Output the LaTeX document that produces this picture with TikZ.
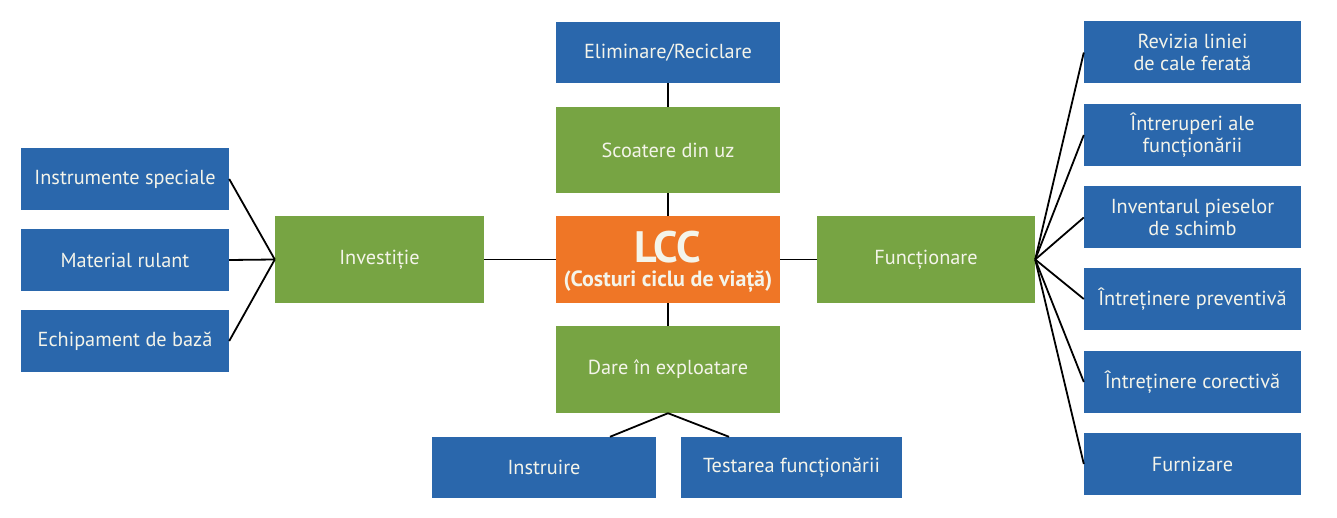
\documentclass[tikz,border=0pt]{standalone}
\usepackage{fontspec}
\setmainfont{PT Sans}
\definecolor{bblue}{HTML}{2A67AC}
\definecolor{bgreen}{HTML}{77A443}
\definecolor{borange}{HTML}{EF7626}
\definecolor{btext}{HTML}{F4F4EA}
\begin{document}
\begin{tikzpicture}[x=1pt,y=-1pt,
  box/.style={draw=none,minimum width=#1,inner sep=0pt,text=btext,align=center,font=\fontsize{20.3}{23}\selectfont},
  bluebox/.style={box=#1,fill=bblue,minimum height=62pt},
  greenbox/.style={box=#1,fill=bgreen,minimum height=87pt},
  twoline/.style={font=\fontsize{20.3}{22}\selectfont},
  link/.style={line width=1.8pt,black}]
\useasboundingbox (0,0) rectangle (1337,518);
% left
\node[bluebox=208] (is) at (125,179) {Instrumente speciale};
\node[bluebox=208] (mr) at (125,260) {Material rulant};
\node[bluebox=208] (eb) at (125,341) {Echipament de bază};
\node[greenbox=209] (inv) at (379.5,259.5) {Investiție};
% center
\node[box=224,fill=bblue,minimum height=61pt] (el) at (668,52.5) {Eliminare/Reciclare};
\node[greenbox=224,minimum height=86pt] (sc) at (668,150) {Scoatere din uz};
\node[box=224,fill=borange,minimum height=87pt] (lcc) at (668,259.5) {};
\node[text=btext,font=\bfseries\fontsize{44}{44}\selectfont] (lt) at (668,247) {LCC};
\node[text=btext,font=\bfseries\fontsize{22}{24}\selectfont] (ls) at (668,282) {(Costuri ciclu de viață)};
\node[greenbox=224] (da) at (668,369.5) {Dare în exploatare};
\node[bluebox=224,minimum height=61pt] (ins) at (544,467.5) {Instruire};
\node[bluebox=221,minimum height=61pt] (tf) at (791.5,467.5) {Testarea funcționării};
% right
\node[greenbox=218] (fu) at (926,259.5) {Funcționare};
\node[bluebox=217,twoline] (r1) at (1192.5,52.5) {Revizia liniei\\de cale ferată};
\node[bluebox=217,twoline] (r2) at (1192.5,135) {Întreruperi ale\\funcționării};
\node[bluebox=217,twoline] (r3) at (1192.5,217.5) {Inventarul pieselor\\de schimb};
\node[bluebox=217] (r4) at (1192.5,299) {Întreținere preventivă};
\node[bluebox=217] (r5) at (1192.5,382) {Întreținere corectivă};
\node[bluebox=217] (r6) at (1192.5,464) {Furnizare};
% links
\draw[link] (is.east) -- (inv.west);
\draw[link] (mr.east) -- (inv.west);
\draw[link] (eb.east) -- (inv.west);
\draw[link] (inv.east) -- (lcc.west);
\draw[link] (lcc.east) -- (fu.west);
\draw[link] (el.south) -- (sc.north);
\draw[link] (sc.south) -- (lcc.north);
\draw[link] (lcc.south) -- (da.north);
\draw[link] (da.south) -- (ins.north -| 610,0);
\draw[link] (da.south) -- (tf.north -| 729,0);
\foreach \r in {r1,r2,r3,r4,r5,r6} \draw[link] (fu.east) -- (\r.west);
\end{tikzpicture}
\end{document}
